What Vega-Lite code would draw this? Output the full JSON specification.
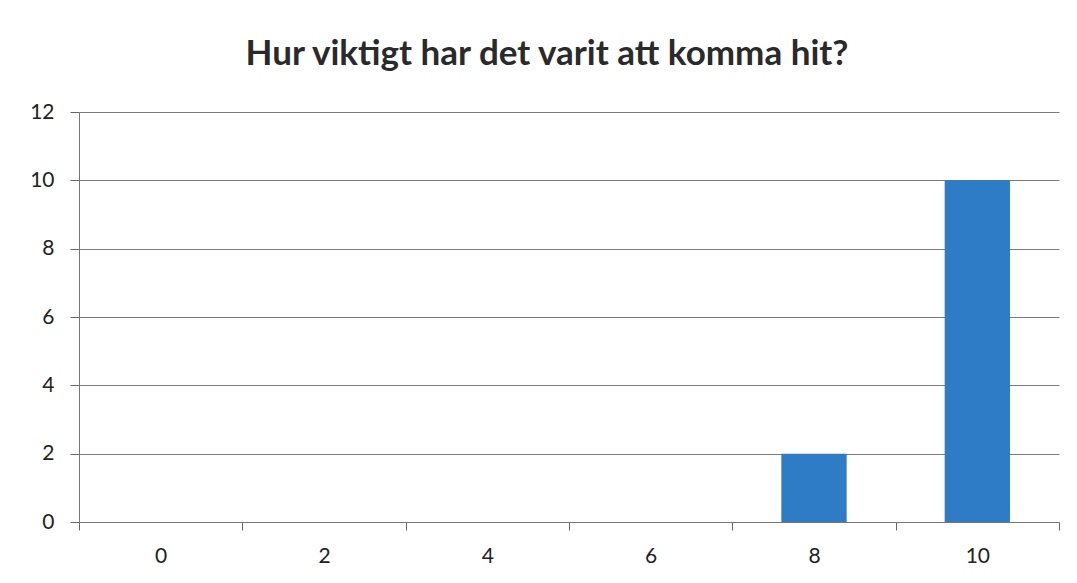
{
  "$schema": "https://vega.github.io/schema/vega-lite/v6.json",
  "autosize": "none",
  "width": 980,
  "height": 410,
  "padding": {"left": 79, "top": 112, "right": 18, "bottom": 61},
  "background": "white",
  "config": {"view": {"stroke": null}, "font": "Lato"},
  "title": {
    "text": "Hur viktigt har det varit att komma hit?",
    "font": "Lato",
    "fontSize": 35,
    "fontWeight": "bold",
    "color": "#2a2a2a",
    "anchor": "middle",
    "baseline": "alphabetic",
    "dx": -22,
    "offset": 1
  },
  "data": {
    "values": [
      {"score": "0", "count": 0},
      {"score": "2", "count": 0},
      {"score": "4", "count": 0},
      {"score": "6", "count": 0},
      {"score": "8", "count": 2},
      {"score": "10", "count": 10}
    ]
  },
  "mark": {"type": "bar", "color": "#2E7CC6", "width": {"band": 0.4}},
  "encoding": {
    "x": {
      "field": "score",
      "type": "ordinal",
      "sort": ["0", "2", "4", "6", "8", "10"],
      "scale": {"paddingInner": 0, "paddingOuter": 0},
      "axis": {
        "title": null,
        "labelAngle": 0,
        "labelFont": "Lato",
        "labelFontSize": 21,
        "labelColor": "#222222",
        "labelPadding": 15,
        "tickBand": "extent",
        "tickSize": 8,
        "tickColor": "#666666",
        "domainColor": "#777777",
        "grid": false
      }
    },
    "y": {
      "field": "count",
      "type": "quantitative",
      "scale": {"domain": [0, 12]},
      "axis": {
        "title": null,
        "values": [0, 2, 4, 6, 8, 10, 12],
        "labelFont": "Lato",
        "labelFontSize": 21,
        "labelColor": "#222222",
        "labelPadding": 16,
        "tickSize": 9,
        "tickColor": "#666666",
        "domainColor": "#777777",
        "grid": true,
        "gridColor": "#7a7a7a",
        "gridWidth": 1
      }
    }
  }
}
